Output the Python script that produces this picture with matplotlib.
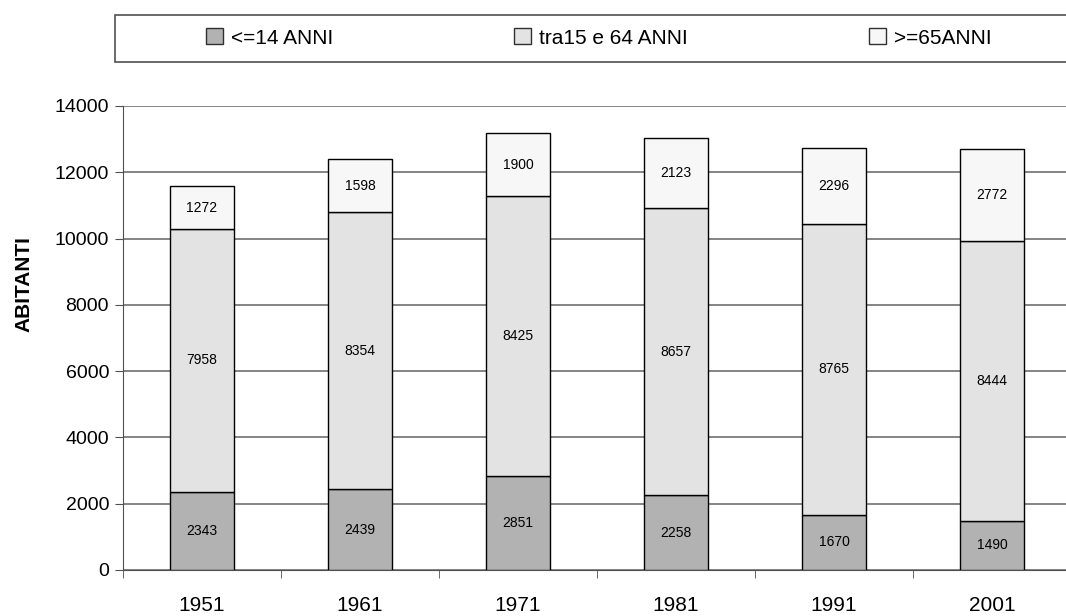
import matplotlib
matplotlib.use("Agg")
import matplotlib.pyplot as plt
from matplotlib.patches import Rectangle, Patch
import numpy as np

plt.rcParams['font.family'] = ['Liberation Sans', 'DejaVu Sans']

anni = ['1951', '1961', '1971', '1981', '1991', '2001']
under14 = [2343, 2439, 2851, 2258, 1670, 1490]
tra15_64 = [7958, 8354, 8425, 8657, 8765, 8444]
over65 = [1272, 1598, 1900, 2123, 2296, 2772]

series = [
    ('<=14 ANNI', under14, '#b2b2b2'),
    ('tra15 e 64 ANNI', tra15_64, '#e3e3e3'),
    ('>=65ANNI', over65, '#f7f7f7'),
]

fig = plt.figure(figsize=(10.66, 6.16), dpi=100)
ax = fig.add_axes([123 / 1066, 46 / 616, 948 / 1066, 464 / 616])

x = np.arange(len(anni))
bottom = np.zeros(len(anni))
for name, vals, col in series:
    ax.bar(x, vals, 0.4, bottom=bottom, color=col, edgecolor='black',
           linewidth=1, zorder=3, label=name)
    for xi, b, v in zip(x, bottom, vals):
        ax.text(xi, b + v / 2, str(v), ha='center', va='center', fontsize=10, zorder=4)
    bottom += np.array(vals)

ax.set_xlim(-0.5, 5.5)
ax.set_ylim(0, 14000)
ax.set_yticks(range(0, 14001, 2000))
ax.yaxis.grid(True, color='#707070', linewidth=1.2, zorder=0)
ax.set_xticks(x)
ax.set_xticklabels(anni, fontsize=15)
ax.set_xticks(np.arange(-0.5, 5.6, 1), minor=True)
ax.tick_params(axis='x', which='major', length=0, pad=19)
ax.tick_params(axis='x', which='minor', length=6, color='#505050')
ax.tick_params(axis='y', labelsize=14, length=6, color='#505050', pad=4)
for s in ['top', 'right']:
    ax.spines[s].set_visible(False)
ax.spines['left'].set_color('#505050')
ax.spines['bottom'].set_color('#505050')
ax.set_ylabel('ABITANTI', fontsize=15, fontweight='bold')
ax.yaxis.set_label_coords(-90 / 948, 0.616)

# legend box
fig.patches.append(Rectangle((115 / 1066, 1 - 62 / 616), 960 / 1066, 47 / 616,
                             transform=fig.transFigure, facecolor='white',
                             edgecolor='#505050', linewidth=1.2))
handles = [Patch(facecolor=c, edgecolor='#303030', label=n) for n, _, c in series]
fig.legend(handles=handles, loc='center', ncol=3, frameon=False, fontsize=15,
           bbox_to_anchor=(599 / 1066, 1 - 38 / 616), columnspacing=8.7,
           handlelength=0.8, handleheight=0.8, handletextpad=0.4)

fig.savefig('out.png', dpi=100)
